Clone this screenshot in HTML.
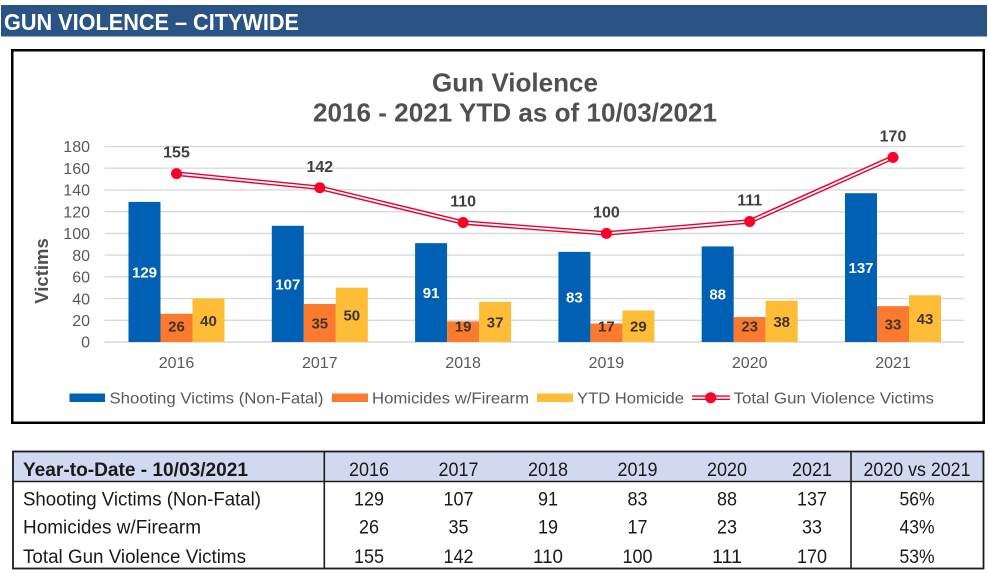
<!DOCTYPE html>
<html lang="en">
<head>
<meta charset="utf-8">
<title>Gun Violence - Citywide</title>
<style>
html,body{margin:0;padding:0;background:#fff;width:988px;height:573px;overflow:hidden}
svg{display:block;font-family:"Liberation Sans",Arial,sans-serif}
</style>
</head>
<body>
<svg id="root" xmlns="http://www.w3.org/2000/svg" width="988" height="573" viewBox="0 0 988 573">
  <rect x="0" y="0" width="988" height="573" fill="#fff"/>
  <rect x="1" y="5" width="986" height="31.5" fill="#2a5485"/>
  <text x="4" y="30" font-size="23" font-weight="700" fill="#fff" textLength="295" lengthAdjust="spacingAndGlyphs">GUN VIOLENCE – CITYWIDE</text>

  <rect x="12.25" y="50.25" width="971.5" height="372.5" fill="#fff" stroke="#000" stroke-width="2.5"/>
  <text x="515" y="91.5" text-anchor="middle" font-size="26" font-weight="700" fill="#505050" textLength="166" lengthAdjust="spacingAndGlyphs">Gun Violence</text>
  <text x="515" y="121.5" text-anchor="middle" font-size="26" font-weight="700" fill="#505050" textLength="404" lengthAdjust="spacingAndGlyphs">2016 - 2021 YTD as of 10/03/2021</text>
  <text transform="translate(48,271) rotate(-90)" text-anchor="middle" font-size="18.5" font-weight="700" fill="#505050">Victims</text>

  <g id="grid"></g>
  <g id="yticks"></g>
  <g id="xticks"></g>
  <g id="bars"></g>
  <g id="line"></g>
  <g id="labels"></g>

  <g>
    <g>
      <rect x="69.5" y="393.5" width="35.5" height="8.5" fill="#0060b4"/>
      <text x="109.5" y="403.5" font-size="16" fill="#595959" textLength="214" lengthAdjust="spacingAndGlyphs">Shooting Victims (Non-Fatal)</text>
    </g>
    <g>
      <rect x="332" y="393.5" width="36" height="8.5" fill="#fb7a2e"/>
      <text x="372" y="403.5" font-size="16" fill="#595959" textLength="157" lengthAdjust="spacingAndGlyphs">Homicides w/Firearm</text>
    </g>
    <g>
      <rect x="537" y="393.5" width="36" height="8.5" fill="#fdbd37"/>
      <text x="577" y="403.5" font-size="16" fill="#595959" textLength="107" lengthAdjust="spacingAndGlyphs">YTD Homicide</text>
    </g>
    <g>
      <line x1="692" y1="397.7" x2="730" y2="397.7" stroke="#e8002d" stroke-width="4.6"/>
      <line x1="692" y1="397.7" x2="730" y2="397.7" stroke="#fff" stroke-width="1.8"/>
      <circle cx="710.7" cy="397.7" r="5.5" fill="#fb0029"/>
      <text x="733.5" y="403.5" font-size="16" fill="#595959" textLength="200.5" lengthAdjust="spacingAndGlyphs">Total Gun Violence Victims</text>
    </g>
  </g>

  <g id="table">
    <rect x="13" y="452" width="970" height="29" fill="#d0d9ef"/>
    <rect x="13" y="451.5" width="970.5" height="117" fill="none" stroke="#1c1c1c" stroke-width="1.8"/>
    <line x1="13" y1="481.5" x2="983" y2="481.5" stroke="#1c1c1c" stroke-width="1.6"/>
    <line x1="324.3" y1="451" x2="324.3" y2="568" stroke="#1c1c1c" stroke-width="1.6"/>
    <line x1="851" y1="451" x2="851" y2="568" stroke="#1c1c1c" stroke-width="1.6"/>
    <text x="23" y="476" font-size="19" font-weight="700" fill="#1a1a1a" textLength="225" lengthAdjust="spacingAndGlyphs">Year-to-Date - 10/03/2021</text>
    <text x="917" y="476" text-anchor="middle" font-size="19" fill="#1a1a1a" textLength="107" lengthAdjust="spacingAndGlyphs">2020 vs 2021</text>
    <text x="23" y="505.5" font-size="19" fill="#1a1a1a" textLength="238" lengthAdjust="spacingAndGlyphs">Shooting Victims (Non-Fatal)</text>
    <text x="23" y="533.5" font-size="19" fill="#1a1a1a" textLength="178" lengthAdjust="spacingAndGlyphs">Homicides w/Firearm</text>
    <text x="23" y="563" font-size="19" fill="#1a1a1a" textLength="223" lengthAdjust="spacingAndGlyphs">Total Gun Violence Victims</text>
  </g>
</svg>
<script>
const years = [2016, 2017, 2018, 2019, 2020, 2021];
const shootingVictims = [129, 107, 91, 83, 88, 137];
const homicidesFirearm = [26, 35, 19, 17, 23, 33];
const ytdHomicide = [40, 50, 37, 29, 38, 43];
const totalVictims = [155, 142, 110, 100, 111, 170];
const yTicks = [0, 20, 40, 60, 80, 100, 120, 140, 160, 180];
const changePct = ['56%', '43%', '53%'];

const NS = 'http://www.w3.org/2000/svg';
function xCenter(i) { return 176.5 + i * 143.3; }
function yScale(v) { return 342 - v * (195.5 / 180); }
function tableColumn(i) { return i === 5 ? 812 : 369 + i * 89.5; }
function make(tag, parent, attrs, txt) {
  const el = document.createElementNS(NS, tag);
  for (const k in attrs) el.setAttribute(k, attrs[k]);
  if (txt !== undefined) el.textContent = txt;
  parent.appendChild(el);
  return el;
}
const gGrid = document.getElementById('grid');
const gY = document.getElementById('yticks');
const gX = document.getElementById('xticks');
const gBars = document.getElementById('bars');
const gLine = document.getElementById('line');
const gLabels = document.getElementById('labels');
const gTable = document.getElementById('table');

yTicks.forEach(function (t) {
  const g = make('line', gGrid, { x1: 104.5, x2: 964.5, y1: yScale(t), y2: yScale(t), stroke: '#d9d9d9', 'stroke-width': 1.4 });
  
  
  const l = make('text', gY, { x: 90, y: yScale(t) + 5.7, 'text-anchor': 'end', 'font-size': 16, fill: '#595959' }, String(t));
  
  
});

const barSeries = [
  { key: 'shooting', values: shootingVictims, fill: '#0060b4', text: '#fff', offset: -48 },
  { key: 'homicide', values: homicidesFirearm, fill: '#fb7a2e', text: '#40342c', offset: -16 },
  { key: 'ytd', values: ytdHomicide, fill: '#fdbd37', text: '#40342c', offset: 16 }
];
const barWidth = 32;

years.forEach(function (yr, i) {
  const xl = make('text', gX, { x: xCenter(i), y: 367.8, 'text-anchor': 'middle', 'font-size': 16, fill: '#595959' }, String(yr));
  
  
  barSeries.forEach(function (s) {
    const v = s.values[i];
    const b = make('rect', gBars, { x: xCenter(i) + s.offset, y: yScale(v), width: barWidth, height: yScale(0) - yScale(v), fill: s.fill });
    
    
    const mid = Math.min((yScale(v) + yScale(0)) / 2, 326);
    const t = make('text', gLabels, { x: xCenter(i) + s.offset + barWidth / 2, y: mid + 5.5, 'text-anchor': 'middle', 'font-size': 15, 'font-weight': 700, fill: s.text }, String(v));
    
    
  });
});

const pts = totalVictims.map(function (v, i) { return xCenter(i) + ',' + yScale(v); }).join(' ');
const outer = make('polyline', gLine, { points: pts, fill: 'none', stroke: '#e8002d', 'stroke-width': 4.6, 'stroke-linejoin': 'round' });


const inner = make('polyline', gLine, { points: pts, fill: 'none', stroke: '#fff', 'stroke-width': 1.8, 'stroke-linejoin': 'round' });


totalVictims.forEach(function (v, i) {
  const c = make('circle', gLine, { cx: xCenter(i), cy: yScale(v), r: 5.5, fill: '#fb0029' });
  
  
  const t = make('text', gLabels, { x: xCenter(i), y: yScale(v) - 16, 'text-anchor': 'middle', 'font-size': 16, 'font-weight': 700, fill: '#404040' }, String(v));
  
  
});

const tableRows = [shootingVictims, homicidesFirearm, totalVictims];
const rowBaselines = [505.5, 533.5, 563];
function cellWidth(s) { return s.length * 10; }
years.forEach(function (yr, i) {
  const h = make('text', gTable, { x: tableColumn(i), y: 476, 'text-anchor': 'middle', 'font-size': 19, fill: '#1a1a1a', textLength: cellWidth(String(yr)), lengthAdjust: 'spacingAndGlyphs' }, String(yr));
  
  
  tableRows.forEach(function (row, r) {
    const c = make('text', gTable, { x: tableColumn(i), y: rowBaselines[r], 'text-anchor': 'middle', 'font-size': 19, fill: '#1a1a1a', textLength: cellWidth(String(row[i])), lengthAdjust: 'spacingAndGlyphs' }, String(row[i]));
    
    
  });
});
changePct.forEach(function (p, r) {
  const c = make('text', gTable, { x: 917, y: rowBaselines[r], 'text-anchor': 'middle', 'font-size': 19, fill: '#1a1a1a', textLength: 35, lengthAdjust: 'spacingAndGlyphs' }, p);
  
  
});
</script>
</body>
</html>
